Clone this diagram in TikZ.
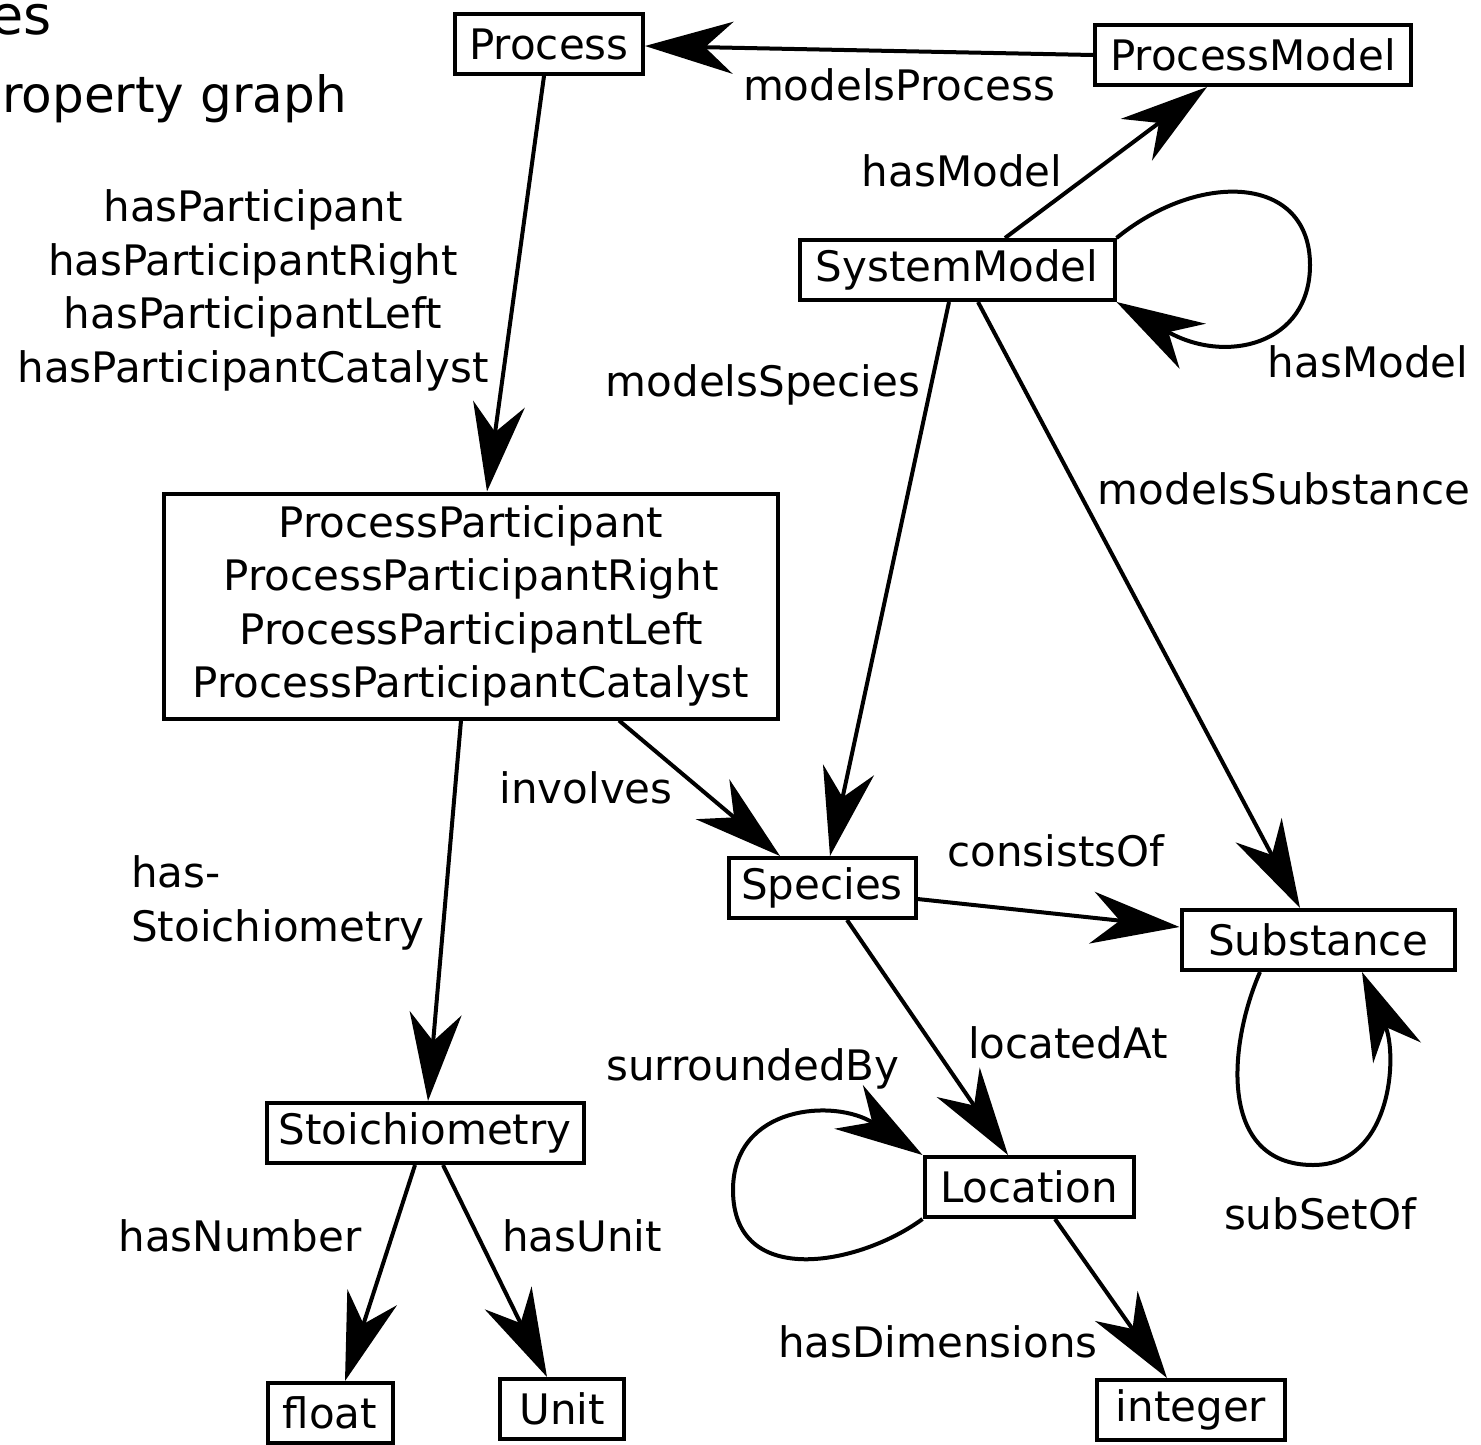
\documentclass[tikz,border=0pt]{standalone}
\usepackage{fontspec}
\setmainfont{DejaVu Sans}
\usetikzlibrary{arrows.meta,calc}
\begin{document}
\begin{tikzpicture}[x=1pt,y=-1pt,
  every node/.style={font=\fontsize{42}{53.5}\selectfont},
  box/.style={draw,line width=4pt,inner xsep=10pt,inner ysep=0pt,minimum height=60pt,fill=white},
  lbl/.style={anchor=base,inner sep=0pt,align=center},
  edge/.style={line width=4pt,-{Stealth[length=88pt,width=52pt,inset=28pt]}}]
\useasboundingbox (0,0) rectangle (1481,1445);
% title fragments
\node[anchor=base east,inner sep=0pt,font=\fontsize{54}{60}\selectfont] (t1) at (52,35) {es};
\node[anchor=base east,inner sep=0pt,font=\fontsize{50}{60}\selectfont] (t2) at (347,112) {roperty graph};
% nodes
\node[box,minimum width=188pt] (proc) at (549,44) {Process};
\node[box,minimum width=316pt] (pm) at (1253,55) {ProcessModel};
\node[box,minimum width=315pt] (sm) at (957,270) {SystemModel};
\node[box,minimum width=614pt,minimum height=225pt,align=center] (pp) at (471,606)
  {ProcessParticipant\\ProcessParticipantRight\\ProcessParticipantLeft\\ProcessParticipantCatalyst};
\node[box,minimum width=187pt] (sp) at (822,888) {Species};
\node[box,minimum width=273pt] (sub) at (1318,940) {Substance};
\node[box,minimum width=317pt] (st) at (425,1133) {Stoichiometry};
\node[box,minimum width=209pt] (loc) at (1029,1187) {Location};
\node[box,minimum width=125pt] (fl) at (330,1413) {float};
\node[box,minimum width=124pt] (un) at (562,1409) {Unit};
\node[box,minimum width=188pt] (int) at (1191,1410) {integer};
% edges
\draw[edge] (pm.west) -- ([yshift=-2pt]proc.east);
\draw[edge] ([xshift=48pt]sm.north) -- ([xshift=-46pt]pm.south);
\draw[edge] (sm.north east) .. controls (1200,170) and (1310,175) .. (1310,265)
   .. controls (1310,345) and (1225,365) .. (sm.south east);
\draw[edge] ([xshift=-5pt]proc.south) -- ([xshift=16pt]pp.north);
\draw[edge] ([xshift=148pt]pp.south) -- ([xshift=-42pt]sp.north);
\draw[edge] ([xshift=-8pt]sm.south) -- ([xshift=8pt]sp.north);
\draw[edge] ([xshift=21pt]sm.south) -- ([xshift=-18pt]sub.north);
\draw[edge] ([yshift=-11pt]sp.east) -- ([yshift=13pt]sub.west);
\draw[edge] ([xshift=-58pt]sub.south) .. controls (1228,1045) and (1218,1165) .. (1313,1165)
   .. controls (1392,1165) and (1398,1055) .. ([xshift=44pt]sub.south);
\draw[edge] ([xshift=25pt]sp.south) -- ([xshift=-21pt]loc.north);
\draw[edge] (loc.south west) .. controls (860,1265) and (733,1290) .. (733,1190)
   .. controls (733,1105) and (835,1098) .. (loc.north west);
\draw[edge] ([xshift=26pt]loc.south) -- ([xshift=-24pt]int.north);
\draw[edge] ([xshift=-10pt]pp.south) -- ([xshift=3pt]st.north);
\draw[edge] ([xshift=-10pt]st.south) -- ([xshift=15pt]fl.north);
\draw[edge] ([xshift=18pt]st.south) -- ([xshift=-15pt]un.north);
% labels
\node[lbl] (l1) at (899,100) {modelsProcess};
\node[lbl] (l2) at (962,186) {hasModel};
\node[lbl] (l3) at (1368,377) {hasModel};
\node[lbl] (l4) at (253,382) {hasParticipant\\hasParticipantRight\\hasParticipantLeft\\hasParticipantCatalyst};
\node[lbl] (l5) at (763,396) {modelsSpecies};
\node[lbl] (l6) at (1284,504) {modelsSubstance};
\node[lbl] (l7) at (586,803) {involves};
\node[lbl] (l8) at (1056,866) {consistsOf};
\node[lbl,align=left,anchor=base west] (l9) at (131,941) {has-\\Stoichiometry};
\node[lbl] (l10) at (1068,1058) {locatedAt};
\node[lbl] (l11) at (753,1080) {surroundedBy};
\node[lbl] (l12) at (1320,1229) {subSetOf};
\node[lbl] (l13) at (240,1251) {hasNumber};
\node[lbl] (l14) at (582,1251) {hasUnit};
\node[lbl] (l15) at (938,1357) {hasDimensions};
\end{tikzpicture}
\end{document}
